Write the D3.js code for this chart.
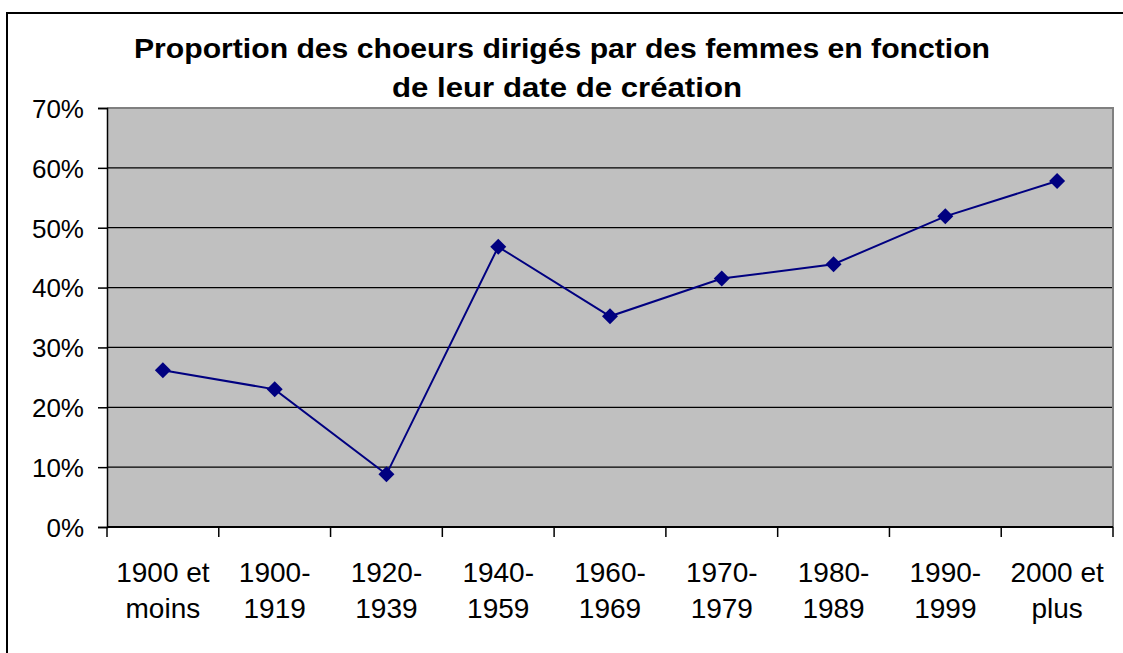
<!DOCTYPE html>
<html>
<head>
<meta charset="utf-8">
<script src="https://cdn.jsdelivr.net/npm/d3@7"></script>
<style>
  html, body { margin: 0; padding: 0; background: #fff; }
  svg { display: block; }
  text { font-family: "Liberation Sans", Arial, sans-serif; fill: #000; }
</style>
</head>
<body>
<svg id="chart" width="1123" height="653"></svg>
<script>
// Periods of creation (two-line labels)
const categories = [
  ["1900 et", "moins"],
  ["1900-", "1919"],
  ["1920-", "1939"],
  ["1940-", "1959"],
  ["1960-", "1969"],
  ["1970-", "1979"],
  ["1980-", "1989"],
  ["1990-", "1999"],
  ["2000 et", "plus"]
];
// Share of choirs conducted by women
const values = [0.262, 0.230, 0.088, 0.468, 0.352, 0.415, 0.439, 0.519, 0.578];
const yTicks = [0, 0.1, 0.2, 0.3, 0.4, 0.5, 0.6, 0.7];
const titleLines = [
  "Proportion des choeurs dirigés par des femmes en fonction",
  "de leur date de création"
];

const svg = d3.select("#chart");
const plot = { left: 107, right: 1113, top: 108, bottom: 527 };

// Outer chart frame (runs off the right and bottom edges)
svg.append("rect")
  .attr("x", 7).attr("y", 13)
  .attr("width", 1140).attr("height", 680)
  .attr("fill", "#fff").attr("stroke", "#000").attr("stroke-width", 2);

const x = d3.scaleBand()
  .domain(categories.map((d, i) => i))
  .range([plot.left, plot.right])
  .paddingInner(0).paddingOuter(0);

const y = d3.scaleLinear().domain([0, 0.7]).range([plot.bottom, plot.top]);

// Plot area background
svg.append("rect")
  .attr("x", plot.left).attr("y", plot.top)
  .attr("width", plot.right - plot.left).attr("height", plot.bottom - plot.top)
  .attr("fill", "#c0c0c0");

// Horizontal gridlines
svg.append("g")
  .selectAll("line")
  .data(yTicks.filter(t => t > 0 && t < 0.7))
  .join("line")
  .attr("x1", plot.left).attr("x2", plot.right)
  .attr("y1", d => y(d)).attr("y2", d => y(d))
  .attr("stroke", "#000").attr("stroke-width", 1.3);

// Plot area border top/right
svg.append("path")
  .attr("d", `M${plot.left},${plot.top}H${plot.right}V${plot.bottom}`)
  .attr("fill", "none").attr("stroke", "#808080").attr("stroke-width", 2);

// Y axis
const yAxis = d3.axisLeft(y)
  .tickValues(yTicks)
  .tickFormat(d3.format(".0%"))
  .tickSize(9)
  .tickPadding(14);
const gy = svg.append("g").attr("transform", `translate(${plot.left},0)`).call(yAxis);
gy.select(".domain").attr("stroke", "#000").attr("stroke-width", 1.5);
gy.selectAll(".tick line").attr("stroke", "#000").attr("stroke-width", 1.5);
gy.selectAll(".tick text")
  .attr("font-size", 26)
  .attr("dy", "0.36em")
  .attr("font-family", "Liberation Sans, Arial, sans-serif")
  .attr("fill", "#000");

// X axis: ticks at category boundaries
const boundaries = d3.range(categories.length + 1).map(i => plot.left + i * x.bandwidth());
const gx = svg.append("g");
gx.append("line")
  .attr("x1", plot.left).attr("x2", plot.right)
  .attr("y1", plot.bottom).attr("y2", plot.bottom)
  .attr("stroke", "#000").attr("stroke-width", 2);
gx.selectAll("line.tk")
  .data(boundaries)
  .join("line").attr("class", "tk")
  .attr("x1", d => d).attr("x2", d => d)
  .attr("y1", plot.bottom).attr("y2", plot.bottom + 10)
  .attr("stroke", "#000").attr("stroke-width", 1.5);

const labels = gx.selectAll("text.cat")
  .data(categories)
  .join("text").attr("class", "cat")
  .attr("text-anchor", "middle")
  .attr("font-size", 28);
labels.each(function(d, i) {
  const t = d3.select(this);
  const cx = x(i) + x.bandwidth() / 2;
  d.forEach((line, j) => {
    t.append("tspan").attr("x", cx).attr("y", 582 + j * 36).text(line);
  });
});

// Series line
const line = d3.line()
  .x((d, i) => x(i) + x.bandwidth() / 2)
  .y(d => y(d));
svg.append("path")
  .datum(values)
  .attr("d", line)
  .attr("fill", "none")
  .attr("stroke", "#000080")
  .attr("stroke-width", 2);

// Diamond markers
const diamond = d3.symbol().type(d3.symbolSquare).size(128);
svg.append("g")
  .selectAll("path")
  .data(values)
  .join("path")
  .attr("d", diamond)
  .attr("transform", (d, i) => `translate(${x(i) + x.bandwidth() / 2},${y(d)}) rotate(45)`)
  .attr("fill", "#000080");

// Title, two centred lines
const titleLayout = [
  { cx: 562, base: 58, width: 856 },
  { cx: 567, base: 97, width: 350 }
];
svg.append("g")
  .selectAll("text")
  .data(titleLines)
  .join("text")
  .attr("text-anchor", "middle")
  .attr("font-size", 28)
  .attr("font-weight", "bold")
  .attr("x", (d, i) => titleLayout[i].cx)
  .attr("y", (d, i) => titleLayout[i].base)
  .attr("textLength", (d, i) => titleLayout[i].width)
  .attr("lengthAdjust", "spacingAndGlyphs")
  .text(d => d);
</script>
</body>
</html>
